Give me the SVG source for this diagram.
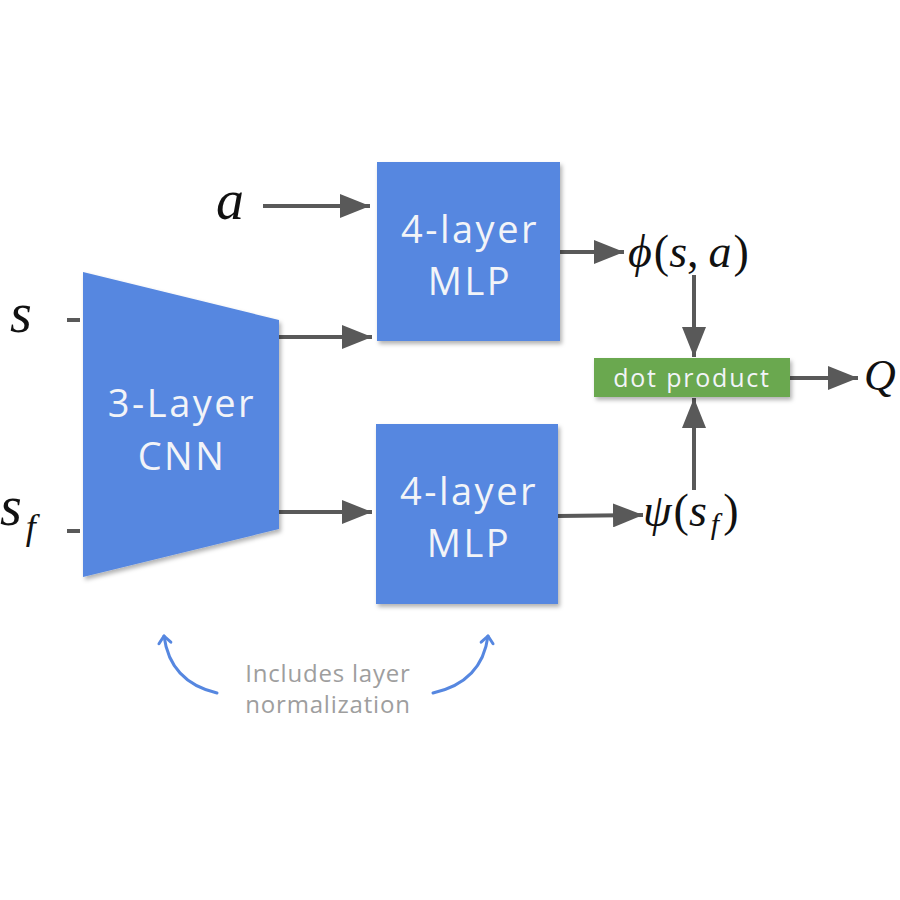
<svg xmlns="http://www.w3.org/2000/svg" width="900" height="900" viewBox="0 0 900 900">
<style>
.box{fill:#5687e0;filter:url(#sh)}
.lbl{font-family:"Open Sans","Noto Sans",sans-serif;fill:#f2f4f8;text-anchor:middle}
.big{font-size:38px;letter-spacing:2.5px}
.math{font-family:"Liberation Serif","DejaVu Serif",serif;font-style:italic;fill:#111}
.up{font-style:normal}
.conn{stroke:#595959;stroke-width:4;fill:none}
.tick{stroke:#595959;stroke-width:4}
.note{stroke:#5687e0;stroke-width:3;fill:none;stroke-linecap:round}
.ntxt{font-family:"Open Sans","Noto Sans",sans-serif;font-size:24px;letter-spacing:0.8px;fill:#9e9e9e;text-anchor:middle}
</style>
<defs>
<filter id="sh" x="-10%" y="-10%" width="130%" height="130%">
<feDropShadow dx="2" dy="3" stdDeviation="2" flood-color="#000" flood-opacity="0.3"/>
</filter>
<marker id="ah" markerUnits="userSpaceOnUse" markerWidth="30" markerHeight="24" refX="30" refY="12" orient="auto">
<path d="M0,0 L30,12 L0,24 z" fill="#595959"/>
</marker>
<marker id="bh" markerUnits="userSpaceOnUse" markerWidth="16" markerHeight="16" refX="10" refY="8" orient="auto">
<path d="M3,2 L10,8 L3,14" fill="none" stroke="#5687e0" stroke-width="3" stroke-linecap="round" stroke-linejoin="round"/>
</marker>
</defs>
<rect width="900" height="900" fill="#fff"/>

<g id="connectors">
<line class="conn" x1="263" y1="206" x2="370" y2="206" marker-end="url(#ah)"/>
<line class="conn" x1="279" y1="337" x2="372" y2="337" marker-end="url(#ah)"/>
<line class="conn" x1="279" y1="512" x2="372" y2="512" marker-end="url(#ah)"/>
<line class="conn" x1="560" y1="252" x2="624" y2="252" marker-end="url(#ah)"/>
<line class="conn" x1="558" y1="516" x2="643" y2="515" marker-end="url(#ah)"/>
<line class="conn" x1="694" y1="275" x2="694" y2="357" marker-end="url(#ah)"/>
<line class="conn" x1="694" y1="490" x2="694" y2="398" marker-end="url(#ah)"/>
<line class="conn" x1="790" y1="378" x2="858" y2="378" marker-end="url(#ah)"/>
<line class="tick" x1="67" y1="320" x2="80" y2="320"/>
<line class="tick" x1="67" y1="531" x2="80" y2="531"/>
<path class="note" d="M217,693 Q170,682 164,636" marker-end="url(#bh)"/>
<path class="note" d="M433,693 Q482,682 488,636" marker-end="url(#bh)"/>
</g>

<g id="cnn">
<polygon class="box" points="83,272 279,320 279,529 83,577"/>
<text class="lbl big" x="182" y="417">3-Layer</text>
<text class="lbl big" x="182" y="470">CNN</text>
</g>

<g id="mlp-top">
<rect class="box" x="377" y="162" width="183" height="179"/>
<text class="lbl big" x="470" y="243">4-layer</text>
<text class="lbl big" x="470" y="295">MLP</text>
</g>

<g id="mlp-bottom">
<rect class="box" x="376" y="424" width="182" height="180"/>
<text class="lbl big" x="469" y="505">4-layer</text>
<text class="lbl big" x="469" y="557">MLP</text>
</g>

<g id="dot">
<rect x="594" y="358" width="196" height="39" fill="#6aa84f" style="filter:url(#sh)"/>
<text class="lbl" x="692" y="387" font-size="25" letter-spacing="1.8">dot product</text>
</g>

<g id="inputs">
<text class="math" x="216" y="219" font-size="56">a</text>
<text class="math" x="10" y="332" font-size="56">s</text>
<text class="math" x="0" y="525" font-size="56">s<tspan font-size="36" dx="4" dy="14">f</tspan></text>
</g>

<g id="outputs">
<text class="math" x="628" y="267" font-size="46">ϕ<tspan class="up" dx="2">(</tspan>s<tspan class="up">,</tspan><tspan dx="10">a</tspan><tspan class="up" dx="2">)</tspan></text>
<text class="math" x="643" y="526" font-size="46">ψ<tspan class="up" dx="2">(</tspan>s<tspan font-size="30" dx="4" dy="8">f</tspan><tspan class="up" dx="4" dy="-8">)</tspan></text>
<text class="math" x="864" y="390" font-size="44">Q</text>
</g>

<g id="note">
<text class="ntxt" x="328" y="682">Includes layer</text>
<text class="ntxt" x="328" y="713">normalization</text>
</g>
</svg>
